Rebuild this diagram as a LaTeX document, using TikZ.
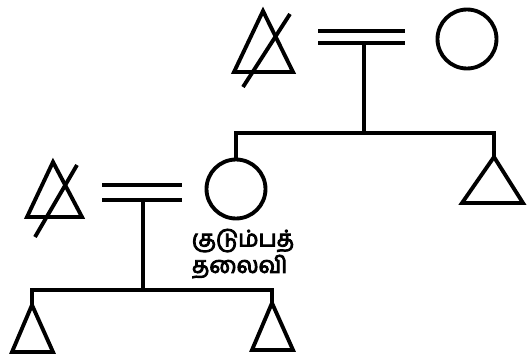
\documentclass[tikz,border=0pt]{standalone}
\usepackage{fontspec}
\newfontfamily\tamilfont[Script=Tamil,AutoFakeBold=4]{Hind Madurai}
\usetikzlibrary{calc,positioning}

\begin{document}
\begin{tikzpicture}[x=0.02cm,y=-0.02cm,line width=2.2pt,
  female/.style={draw,circle,minimum size=1.18cm,inner sep=0pt},
  marriage/.style={line width=2.8pt},
  label/.style={font=\tamilfont\bfseries\fontsize{13}{15}\selectfont,align=left,inner sep=0pt}]
	\useasboundingbox (0,0) rectangle (528,355);

	%% first generation
	\coordinate (D1) at (263,11); % apex of the dead father
	\draw (D1) -- ++(-29,61) -- ++(59,0) -- cycle;
	\draw (290,14) -- (243,87); % deceased
	\node[female] (F1) at (467,39) {};
	\coordinate (E1) at (318,31);
	\coordinate (M1) at (318,43);
	\draw[marriage] (E1) -- ++(87,0);
	\draw[marriage] (M1) -- ++(87,0);
	\coordinate (T1) at (364,43); % foot of the marriage line
	\coordinate (S1) at (364,133);
	\draw (T1) -- (S1);

	%% children of the first couple
	\node[female] (F2) at (236,189) {};
	\coordinate (C2) at (494,157);
	\draw (C2) -- ++(-32,46) -- ++(61,0) -- cycle;
	\draw (F2.north) |- (S1) -| (C2);

	%% second generation
	\coordinate (D2) at (53,162);
	\draw (D2) -- ++(-26,55) -- ++(55,0) -- cycle;
	\draw (77,165) -- (35,237);
	\coordinate (E2) at (102,185);
	\coordinate (M2) at (102,200);
	\draw[marriage] (E2) -- ++(80,0);
	\draw[marriage] (M2) -- ++(80,0);
	\coordinate (T2) at (143,200);
	\coordinate (S2) at (143,290);
	\draw (T2) -- (S2);

	\node[label,anchor=north west] (L1) at (190,227) {குடும்பத்\\தலைவி};

	%% grandchildren
	\coordinate (C3) at (32,305);
	\coordinate (C4) at (272,303);
	\draw (C3) -- ++(-20,47) -- ++(41,0) -- cycle;
	\draw (C4) -- ++(-20,47) -- ++(41,0) -- cycle;
	\draw (C3) |- (S2) -| (C4);
\end{tikzpicture}
\end{document}
